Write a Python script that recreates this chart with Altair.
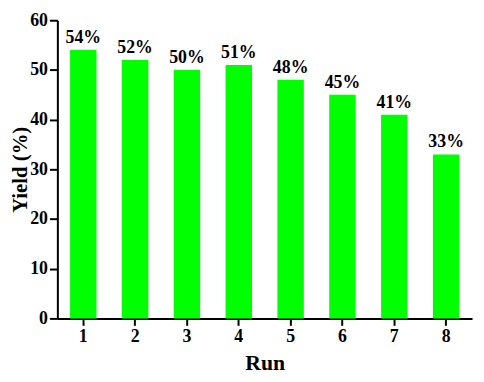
import altair as alt
import pandas as pd

runs = ["1", "2", "3", "4", "5", "6", "7", "8"]
yields = [54, 52, 50, 51, 48, 45, 41, 33]
labels = ["54%", "52%", "50%", "51%", "48%", "45%", "41%", "33%"]
y_ticks = [0, 5, 10, 15, 20, 25, 30, 35, 40, 45, 50, 55, 60]

df = pd.DataFrame({"Run": runs, "Yield": yields, "Label": labels})

FONT = "Liberation Serif"

x = alt.X("Run:N", sort=runs, title="Run",
          scale=alt.Scale(paddingInner=0.49, paddingOuter=0.245),
          axis=alt.Axis(labelAngle=0, labelFont=FONT, labelFontSize=18, labelFontWeight="bold",
                        labelColor="black", labelPadding=2,
                        titleFont=FONT, titleFontSize=22, titleFontWeight="bold", titleColor="black",
                        titlePadding=8,
                        domainColor="black", domainWidth=2, tickColor="black", tickWidth=2, tickSize=7))
y = alt.Y("Yield:Q", title="Yield (%)",
          scale=alt.Scale(domain=[0, 60], nice=False),
          axis=alt.Axis(values=y_ticks, grid=False,
                        labelExpr="datum.value % 10 ? '' : datum.label",
                        tickSize={"expr": "datum.value % 10 ? 4 : 8"},
                        labelFont=FONT, labelFontSize=18, labelFontWeight="bold", labelColor="black",
                        labelPadding=2,
                        titleFont=FONT, titleFontSize=21, titleFontWeight="bold", titleColor="black",
                        titleBaseline="alphabetic", titleX=-31,
                        domainColor="black", domainWidth=2, tickColor="black", tickWidth=2))

bars = alt.Chart(df).mark_bar(color="#00FF00").encode(x=x, y=y)
text = alt.Chart(df).mark_text(font=FONT, fontSize=18, fontWeight="bold", color="black",
                               baseline="alphabetic", dy=-7).encode(
    x=alt.X("Run:N", sort=runs), y="Yield:Q", text="Label:N")

chart = (bars + text).properties(
    width=420, height=302,
    autosize=alt.AutoSizeParams(type="none"),
    padding={"left": 50, "top": 10, "right": 4, "bottom": 60},
).configure_view(stroke=None).configure_axis(grid=False)

chart.save("out.html", embed_options={"renderer": "svg", "actions": False})
